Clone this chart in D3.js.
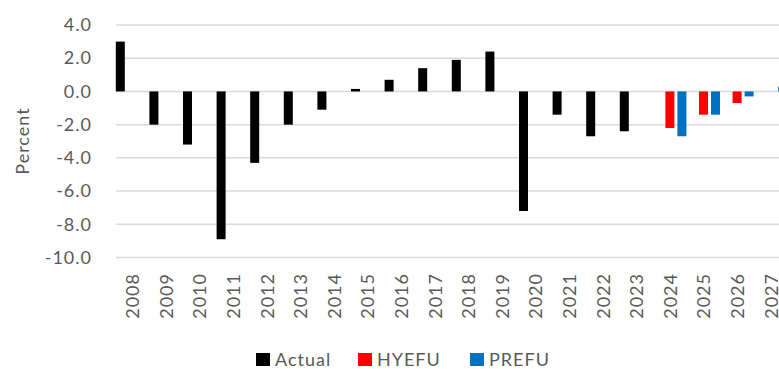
<!DOCTYPE html>
<html>
<head>
<meta charset="utf-8">
<script src="https://cdn.jsdelivr.net/npm/d3@7"></script>
<style>
  html, body { margin: 0; padding: 0; background: #fff; overflow: hidden; }
  svg { display: block; }
  text { font-family: Lato, "Open Sans", sans-serif; fill: #595959; }
</style>
</head>
<body>
<svg id="chart" width="779" height="369"></svg>
<script>
// Budget balance, percent
const years = ["2008","2009","2010","2011","2012","2013","2014","2015","2016","2017",
               "2018","2019","2020","2021","2022","2023","2024","2025","2026","2027"];
const actual = [3.0, -2.0, -3.2, -8.9, -4.3, -2.0, -1.1, 0.15, 0.7, 1.4,
                1.9, 2.4, -7.2, -1.4, -2.7, -2.4, null, null, null, null];
const hyefu  = [null, null, null, null, null, null, null, null, null, null,
                null, null, null, null, null, null, -2.2, -1.4, -0.7, null];
const prefu  = [null, null, null, null, null, null, null, null, null, null,
                null, null, null, null, null, null, -2.7, -1.4, -0.3, 0.3];
const yTicks = [4, 2, 0, -2, -4, -6, -8, -10];

const seriesNames = ["Actual", "HYEFU", "PREFU"];
const seriesValues = [actual, hyefu, prefu];
const colors = { Actual: "#000000", HYEFU: "#ff0000", PREFU: "#0070c0" };

const svg = d3.select("#chart");

const x = d3.scaleBand().domain(years).range([115.5, 115.5 + 33.6 * years.length]).padding(0);
const xs = d3.scaleBand().domain(seriesNames).range([0, x.bandwidth()])
  .paddingInner(0.25).paddingOuter(0.025);
const y = d3.scaleLinear().domain([-10, 4]).range([257.5, 25]);

// gridlines
svg.append("g")
  .selectAll("line")
  .data(yTicks)
  .join("line")
  .attr("x1", 116).attr("x2", 800)
  .attr("y1", d => y(d)).attr("y2", d => y(d))
  .attr("stroke", "#d9d9d9").attr("stroke-width", 1.5);

// y-axis tick labels (plain hyphen for negatives)
const yAxis = d3.axisLeft(y).tickValues(yTicks).tickFormat(d => d.toFixed(1)).tickSize(0).tickPadding(0);
const gy = svg.append("g").attr("transform", "translate(92,0)").call(yAxis);
gy.select(".domain").remove();
gy.selectAll("text")
  .attr("font-size", 18).attr("letter-spacing", 1)
  .style("font-family", "Lato, sans-serif").style("fill", "#595959");

// y-axis title
svg.append("text")
  .attr("transform", "translate(29,141) rotate(-90)")
  .attr("text-anchor", "middle")
  .attr("font-size", 18).attr("letter-spacing", 1)
  .text("Percent");

// bars
const rows = [];
years.forEach((yr, i) => {
  seriesNames.forEach((s, j) => {
    const v = seriesValues[j][i];
    if (v !== null) rows.push({ year: yr, series: s, value: v });
  });
});

svg.append("g")
  .selectAll("rect")
  .data(rows)
  .join("rect")
  .attr("x", d => x(d.year) + xs(d.series))
  .attr("width", xs.bandwidth())
  .attr("y", d => Math.min(y(d.value), y(0)))
  .attr("height", d => Math.abs(y(d.value) - y(0)))
  .attr("fill", d => colors[d.series]);

// x-axis year labels
const xAxis = d3.axisBottom(x).tickSize(0).tickPadding(0);
const gx = svg.append("g").attr("transform", "translate(0,273)").call(xAxis);
gx.select(".domain").remove();
gx.selectAll("text")
  .attr("transform", "rotate(-90)")
  .attr("text-anchor", "end")
  .attr("x", 0).attr("y", 0).attr("dy", "0.36em")
  .attr("font-size", 18).attr("letter-spacing", 1)
  .style("font-family", "Lato, sans-serif").style("fill", "#595959");
gx.selectAll(".tick").attr("transform", d => `translate(${x(d) + x.bandwidth() / 2 + 0.5},0)`);

// legend
const legendX = [256, 358, 470];
const legend = svg.append("g")
  .selectAll("g")
  .data(seriesNames)
  .join("g")
  .attr("transform", (d, i) => `translate(${legendX[i]},353)`);
legend.append("rect")
  .attr("width", 14).attr("height", 13)
  .attr("fill", d => colors[d]);
legend.append("text")
  .attr("x", 19).attr("y", 13)
  .attr("font-size", 18).attr("letter-spacing", 1)
  .text(d => d);
</script>
</body>
</html>
